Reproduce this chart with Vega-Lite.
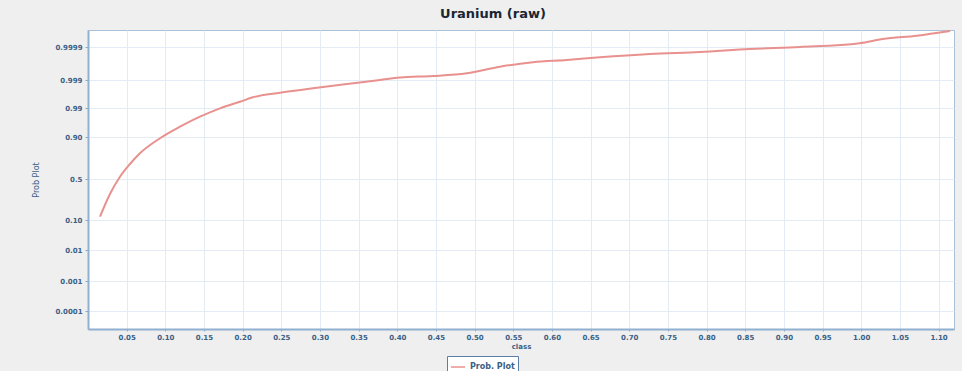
{
  "$schema": "https://vega.github.io/schema/vega-lite/v6.json",
  "autosize": "none",
  "width": 866,
  "height": 299,
  "padding": {"left": 88, "top": 30, "right": 8, "bottom": 42},
  "background": "#efefef",
  "view": {"fill": "#ffffff", "stroke": "#a9c0d6", "strokeWidth": 1},
  "title": {
    "text": "Uranium (raw)",
    "font": "DejaVu Sans",
    "fontSize": 13,
    "fontWeight": "bold",
    "color": "#1a2633",
    "anchor": "middle",
    "dx": -28,
    "offset": 6
  },
  "data": {
    "values": [
      {"cls": 0.0155, "prob": 0.132, "series": "Prob. Plot"},
      {"cls": 0.0284, "prob": 0.354, "series": "Prob. Plot"},
      {"cls": 0.0414, "prob": 0.522, "series": "Prob. Plot"},
      {"cls": 0.0543, "prob": 0.643, "series": "Prob. Plot"},
      {"cls": 0.0672, "prob": 0.745, "series": "Prob. Plot"},
      {"cls": 0.0931, "prob": 0.888, "series": "Prob. Plot"},
      {"cls": 0.119, "prob": 0.932, "series": "Prob. Plot"},
      {"cls": 0.1448, "prob": 0.963, "series": "Prob. Plot"},
      {"cls": 0.1707, "prob": 0.989, "series": "Prob. Plot"},
      {"cls": 0.1965, "prob": 0.992, "series": "Prob. Plot"},
      {"cls": 0.2133, "prob": 0.99344, "series": "Prob. Plot"},
      {"cls": 0.2483, "prob": 0.99492, "series": "Prob. Plot"},
      {"cls": 0.2909, "prob": 0.99633, "series": "Prob. Plot"},
      {"cls": 0.3349, "prob": 0.99771, "series": "Prob. Plot"},
      {"cls": 0.3776, "prob": 0.999, "series": "Prob. Plot"},
      {"cls": 0.4034, "prob": 0.99907, "series": "Prob. Plot"},
      {"cls": 0.4461, "prob": 0.999109, "series": "Prob. Plot"},
      {"cls": 0.49, "prob": 0.999183, "series": "Prob. Plot"},
      {"cls": 0.5327, "prob": 0.999363, "series": "Prob. Plot"},
      {"cls": 0.5754, "prob": 0.999483, "series": "Prob. Plot"},
      {"cls": 0.6193, "prob": 0.999545, "series": "Prob. Plot"},
      {"cls": 0.662, "prob": 0.999619, "series": "Prob. Plot"},
      {"cls": 0.7267, "prob": 0.999709, "series": "Prob. Plot"},
      {"cls": 0.7913, "prob": 0.999764, "series": "Prob. Plot"},
      {"cls": 0.856, "prob": 0.999845, "series": "Prob. Plot"},
      {"cls": 0.9206, "prob": 0.9999, "series": "Prob. Plot"},
      {"cls": 0.998, "prob": 0.99992, "series": "Prob. Plot"},
      {"cls": 1.028, "prob": 0.999942, "series": "Prob. Plot"},
      {"cls": 1.072, "prob": 0.99996, "series": "Prob. Plot"},
      {"cls": 1.115, "prob": 0.999985, "series": "Prob. Plot"}
    ]
  },
  "mark": {"type": "line", "strokeWidth": 2, "interpolate": "monotone"},
  "encoding": {
    "x": {
      "field": "cls",
      "type": "quantitative",
      "title": "class",
      "scale": {"domain": [0, 1.12], "nice": false, "zero": false},
      "axis": {
        "values": [0.05, 0.1, 0.15, 0.2, 0.25, 0.3, 0.35, 0.4, 0.45, 0.5, 0.55, 0.6, 0.65, 0.7, 0.75, 0.8, 0.85, 0.9, 0.95, 1.0, 1.05, 1.1],
        "format": ".2f",
        "labelFont": "DejaVu Sans",
        "labelFontSize": 7,
        "labelFontWeight": "bold",
        "labelColor": "#3b5f86",
        "labelPadding": 2,
        "tickSize": 2,
        "tickColor": "#8aa8c6",
        "domainColor": "#8fb0cf",
        "domainWidth": 2,
        "gridColor": "#e3ecf5",
        "gridWidth": 1,
        "titleFont": "DejaVu Sans",
        "titleFontSize": 7,
        "titleFontWeight": "bold",
        "titleColor": "#3b5f86",
        "titlePadding": 2
      }
    },
    "y": {
      "field": "prob",
      "type": "quantitative",
      "title": "Prob Plot",
      "scale": {
        "type": "linear",
        "domain": [0.00001, 0.0001, 0.001, 0.01, 0.1, 0.5, 0.9, 0.99, 0.999, 0.9999, 0.99999],
        "range": [299, 281, 251, 220, 190, 149, 107, 78, 50, 17, 0],
        "nice": false,
        "zero": false
      },
      "axis": {
        "values": [0.0001, 0.001, 0.01, 0.1, 0.5, 0.9, 0.99, 0.999, 0.9999],
        "labelExpr": "datum.value == 0.1 ? '0.10' : datum.value == 0.9 ? '0.90' : '' + datum.value",
        "labelFont": "DejaVu Sans",
        "labelFontSize": 7,
        "labelFontWeight": "bold",
        "labelColor": "#3b5f86",
        "labelPadding": 3,
        "tickSize": 3,
        "tickColor": "#8aa8c6",
        "domainColor": "#8fb0cf",
        "domainWidth": 2,
        "gridColor": "#e3ecf5",
        "gridWidth": 1,
        "titleFont": "DejaVu Sans",
        "titleFontSize": 8,
        "titleFontWeight": "normal",
        "titleColor": "#3b5f86",
        "titlePadding": 14
      }
    },
    "color": {
      "field": "series",
      "type": "nominal",
      "scale": {"range": ["#e8918e"]},
      "legend": {
        "title": null,
        "orient": "none",
        "legendX": 359,
        "legendY": 326,
        "direction": "horizontal",
        "symbolType": "stroke",
        "symbolStrokeWidth": 1.5,
        "symbolSize": 200,
        "labelFont": "DejaVu Sans",
        "labelFontSize": 8,
        "labelFontWeight": "bold",
        "labelColor": "#3b5f86",
        "strokeColor": "#5a7fa6",
        "fillColor": "#ffffff",
        "padding": 3,
        "cornerRadius": 0
      }
    }
  }
}
